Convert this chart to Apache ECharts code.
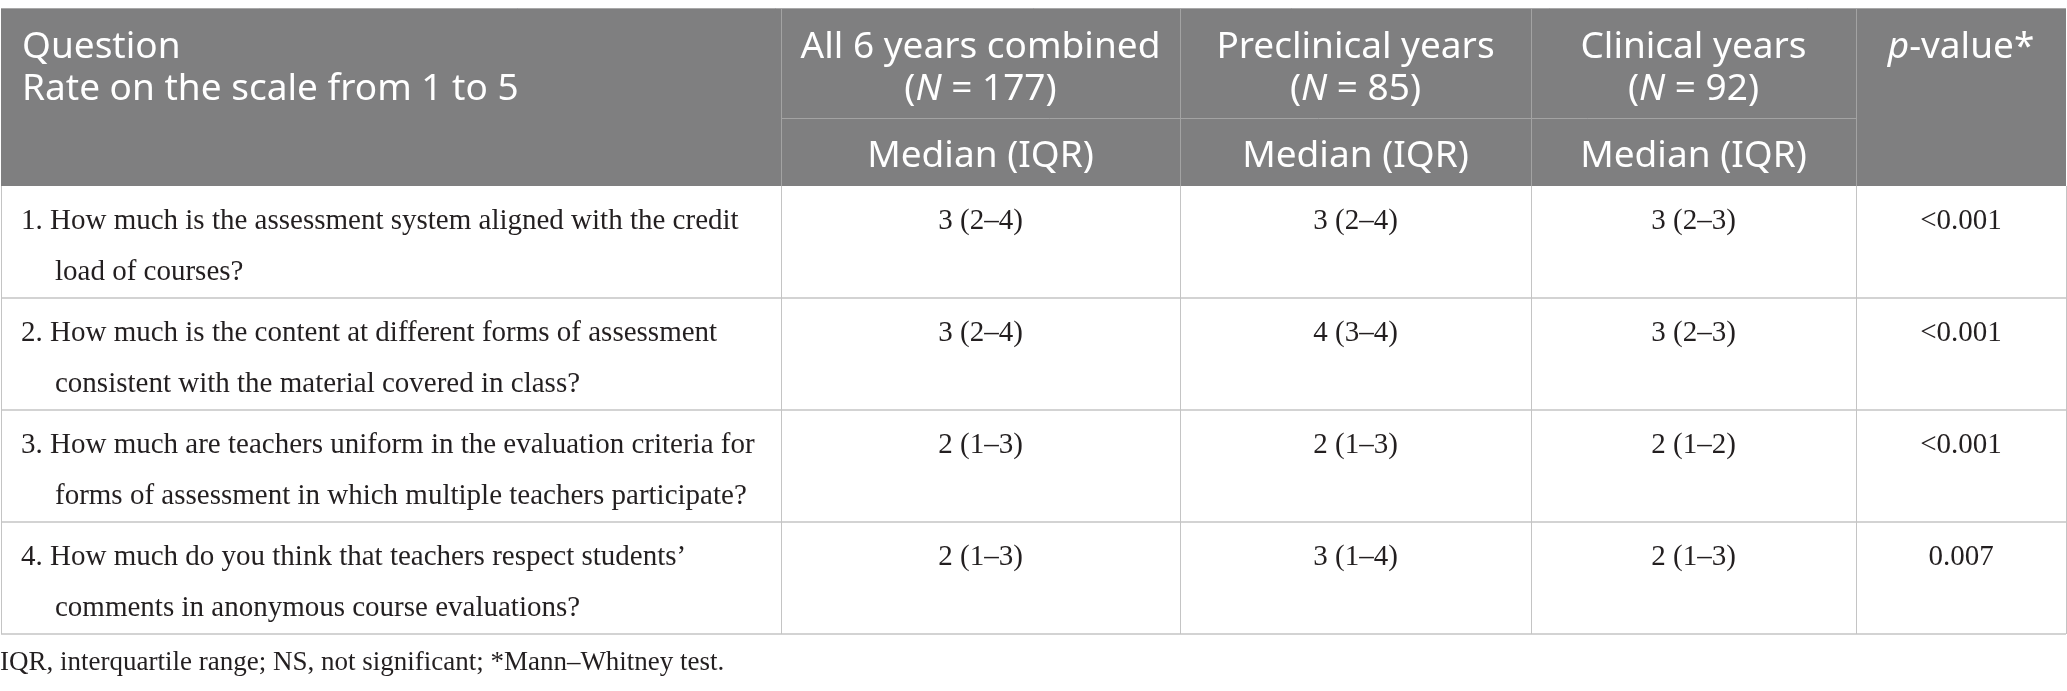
<!DOCTYPE html>
<html>
<head>
<meta charset="utf-8">
<script src="https://cdn.jsdelivr.net/npm/echarts@6/dist/echarts.min.js"></script>
<style>
  html, body { margin: 0; padding: 0; background: #fff; }
  #table { width: 2067px; height: 691px; }
</style>
</head>
<body>
<div id="table"></div>
<script>
// table content
var headTitle = ['Question', 'Rate on the scale from 1 to 5'];
var groupNames = ['All 6 years combined', 'Preclinical years', 'Clinical years'];
var groupN = [177, 85, 92];
var subHead = 'Median (IQR)';
var questions = [
  ['1. How much is the assessment system aligned with the credit', 'load of courses?'],
  ['2. How much is the content at different forms of assessment', 'consistent with the material covered in class?'],
  ['3. How much are teachers uniform in the evaluation criteria for', 'forms of assessment in which multiple teachers participate?'],
  ['4. How much do you think that teachers respect students\u2019', 'comments in anonymous course evaluations?']
];
var allYears = ['3 (2\u20134)', '3 (2\u20134)', '2 (1\u20133)', '2 (1\u20133)'];
var preclinical = ['3 (2\u20134)', '4 (3\u20134)', '2 (1\u20133)', '3 (1\u20134)'];
var clinical = ['3 (2\u20133)', '3 (2\u20133)', '2 (1\u20132)', '2 (1\u20133)'];
var pValues = ['<0.001', '<0.001', '<0.001', '0.007'];
var footnote = 'IQR, interquartile range; NS, not significant; *Mann\u2013Whitney test.';

// layout
var colEdges = [1, 781, 1180, 1531, 1856, 2066];
var headTop = 8, subLine = 118, headBottom = 186, rowH = 112;
var sans = '"Noto Sans", sans-serif';
var serif = '"Liberation Serif", serif';
var headSize = 37, bodySize = 29;

var chart = echarts.init(document.getElementById('table'));
var els = [];

function txt(x, y, text, opt) {
  opt = opt || {};
  var st = {
    text: text, x: x, y: y,
    fontFamily: opt.family || serif,
    fontSize: opt.size || bodySize,
    fill: opt.fill || '#231f20',
    align: opt.align || 'left',
    verticalAlign: 'middle'
  };
  if (opt.rich) st.rich = opt.rich;
  els.push({ type: 'text', silent: true, style: st });
}
function line(x1, y1, x2, y2, color, w) {
  els.push({ type: 'line', silent: true,
    shape: { x1: x1, y1: y1, x2: x2, y2: y2 },
    style: { stroke: color, lineWidth: w || 1 } });
}

var tLeft = colEdges[0], tRight = colEdges[colEdges.length - 1];
var tableBottom = headBottom + rowH * questions.length;

// header background
els.push({ type: 'rect', silent: true,
  shape: { x: tLeft, y: headTop, width: tRight - tLeft, height: headBottom - headTop },
  style: { fill: '#7f7f80' } });

// header lines
for (var c = 1; c < colEdges.length - 1; c++) {
  line(colEdges[c] + 0.5, headTop, colEdges[c] + 0.5, headBottom, '#a3a3a3', 1);
}
line(colEdges[1], subLine + 0.5, colEdges[4], subLine + 0.5, '#a3a3a3', 1);
line(tLeft, headTop + 0.5, tRight, headTop + 0.5, '#a8a8a8', 1);

// header text
var white = '#ffffff';
var italic = { i: { fontStyle: 'italic', fontFamily: sans, fontSize: headSize, fill: white } };
txt(22, 47, headTitle[0], { family: sans, size: headSize, fill: white });
txt(22, 89, headTitle[1], { family: sans, size: headSize, fill: white });
for (var g = 0; g < groupNames.length; g++) {
  var cx = (colEdges[g + 1] + colEdges[g + 2]) / 2;
  txt(cx, 47, groupNames[g], { family: sans, size: headSize, fill: white, align: 'center' });
  txt(cx, 89, '({i|N} = ' + groupN[g] + ')', { family: sans, size: headSize, fill: white, align: 'center', rich: italic });
  txt(cx, 156, subHead, { family: sans, size: headSize, fill: white, align: 'center' });
}
txt((colEdges[4] + colEdges[5]) / 2, 47, '{i|p}-value*', { family: sans, size: headSize, fill: white, align: 'center', rich: italic });

// body rows
var cols = [allYears, preclinical, clinical, pValues];
for (var r = 0; r < questions.length; r++) {
  var rowTop = headBottom + r * rowH;
  txt(21, rowTop + 35, questions[r][0]);
  txt(55, rowTop + 86, questions[r][1]);
  for (var k = 0; k < cols.length; k++) {
    txt((colEdges[k + 1] + colEdges[k + 2]) / 2, rowTop + 35, cols[k][r], { align: 'center' });
  }
  line(tLeft, rowTop + rowH, tRight, rowTop + rowH, '#c4c4c4', 1.5);
}
for (var e = 0; e < colEdges.length; e++) {
  line(colEdges[e] + 0.5, headBottom, colEdges[e] + 0.5, tableBottom, '#c4c4c4', 1);
}

// footnote
txt(0, 663, footnote, { size: 27 });

chart.setOption({ animation: false, graphic: { elements: els } });
</script>
</body>
</html>
